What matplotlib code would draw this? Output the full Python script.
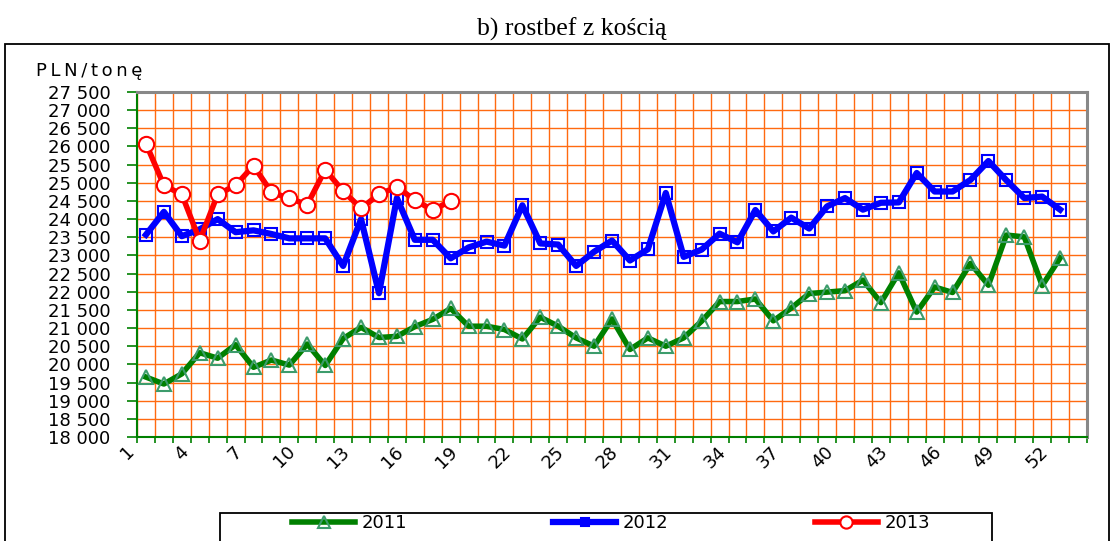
import numpy as np
import matplotlib.pyplot as plt
import matplotlib.transforms as mtransforms
from matplotlib.patches import Rectangle
from matplotlib.ticker import FuncFormatter, MultipleLocator

plt.rcParams['font.family'] = ['DejaVu Sans']

# ceny rostbefu z kością w kolejnych tygodniach (PLN/tonę)
tygodnie = np.arange(1, 53)
ceny_2011 = [19650, 19460, 19740, 20320, 20170, 20540, 19920, 20120, 19980, 20560,
             19970, 20710, 21020, 20740, 20770, 21040, 21240, 21540, 21050, 21050,
             20960, 20700, 21300, 21050, 20730, 20500, 21250, 20410, 20730, 20500,
             20730, 21190, 21730, 21730, 21800, 21200, 21550, 21950, 21990, 22030,
             22320, 21700, 22520, 21440, 22130, 21980, 22780, 22180, 23560, 23510,
             22170, 22930]
ceny_2012 = [23570, 24200, 23530, 23720, 24000, 23640, 23690, 23590, 23470, 23470,
             23470, 22710, 24000, 21960, 24580, 23430, 23430, 22920, 23220, 23380,
             23270, 24380, 23330, 23300, 22710, 23100, 23410, 22860, 23170, 24720,
             22960, 23160, 23600, 23360, 24250, 23660, 24040, 23740, 24350, 24580,
             24260, 24450, 24460, 25270, 24760, 24760, 25080, 25600, 25070, 24580,
             24620, 24260]
ceny_2013 = [26080, 24930, 24680, 23410, 24680, 24930, 25470, 24740, 24570, 24400,
             25360, 24770, 24300, 24680, 24890, 24520, 24250, 24500]
etykiety_x = list(range(1, 53, 3))

W, H = 1114, 541
fig = plt.figure(figsize=(W / 100, H / 100), dpi=100)
ax = fig.add_axes([137 / W, 1 - 437 / H, (1087 - 137) / W, (437 - 92) / H])

zielony = '#008000'
ax.plot(tygodnie, ceny_2011, color=zielony, lw=4, marker='^', ms=10,
        mfc='none', mec='#3c9c6c', mew=1.5, label='2011', zorder=3)
ax.plot(tygodnie, ceny_2012, color='#0000ff', lw=4.5, marker='s', ms=8,
        mfc='none', mec='#0000ff', mew=1.5, label='2012', zorder=4)
ax.plot(tygodnie[:len(ceny_2013)], ceny_2013, color='#ff0000', lw=4, marker='o',
        ms=11, mfc='white', mec='#ff0000', mew=1.5, label='2013', zorder=5)

ax.set_xlim(0.5, 53.5)
ax.set_ylim(18000, 27500)
ax.yaxis.set_major_locator(MultipleLocator(500))
ax.yaxis.set_major_formatter(FuncFormatter(lambda v, p: f"{int(v):,}".replace(",", " ")))
ax.set_xticks(etykiety_x)
ax.set_xticks(np.arange(0.5, 54, 1), minor=True)

ax.grid(axis='y', which='major', color='#ff6a10', lw=1.0, zorder=0)
ax.grid(axis='x', which='minor', color='#ff6a10', lw=1.0, zorder=0)
ax.set_axisbelow(True)

ax.tick_params(axis='y', which='major', direction='out', length=7, width=1.2,
               color=zielony, pad=12, labelsize=13)
ax.tick_params(axis='x', which='major', length=0, pad=4, labelsize=13)
ax.tick_params(axis='x', which='minor', direction='out', length=4, width=1.2,
               color=zielony)
przes = mtransforms.ScaledTranslation(-8 / 100, 0, fig.dpi_scale_trans)
for lbl in ax.get_xticklabels():
    lbl.set_rotation(45)
    lbl.set_ha('right')
    lbl.set_va('top')
    lbl.set_transform(lbl.get_transform() + przes)

for s in ('left', 'bottom'):
    ax.spines[s].set_color(zielony)
    ax.spines[s].set_linewidth(1.5)
for s in ('top', 'right'):
    ax.spines[s].set_color('#888888')
    ax.spines[s].set_linewidth(2.2)

# tytuł i opis osi
fig.text(572 / W, 1 - 36 / H, 'b) rostbef z kością', ha='center', va='baseline',
         fontfamily='Liberation Serif', fontsize=18.5)
fig.text(36 / W, 1 - 76 / H, 'P\u2009L\u2009N\u2009/\u2009t\u2009o\u2009n\u2009ę',
         ha='left', va='baseline', fontsize=13)

# ramka wykresu
fig.patches.append(Rectangle((4.5 / W, -0.02), (1108.5 - 4.5) / W, (H - 43.5) / H + 0.02,
                             transform=fig.transFigure, fill=False, ec='black', lw=1.3))

# legenda w osobnej ramce pod wykresem
fig.patches.append(Rectangle((220 / W, -0.02), (992 - 220) / W, (H - 513) / H + 0.02,
                             transform=fig.transFigure, fill=False, ec='black', lw=1.3))
fig.legend(loc='center left', bbox_to_anchor=(292 / W, 1 - 523 / H), ncol=3,
           frameon=False, fontsize=13, handlelength=3.5, handletextpad=0.35,
           columnspacing=8.1, borderpad=0, borderaxespad=0, numpoints=1,
           markerscale=0.8)

fig.savefig('out.png', dpi=100)
